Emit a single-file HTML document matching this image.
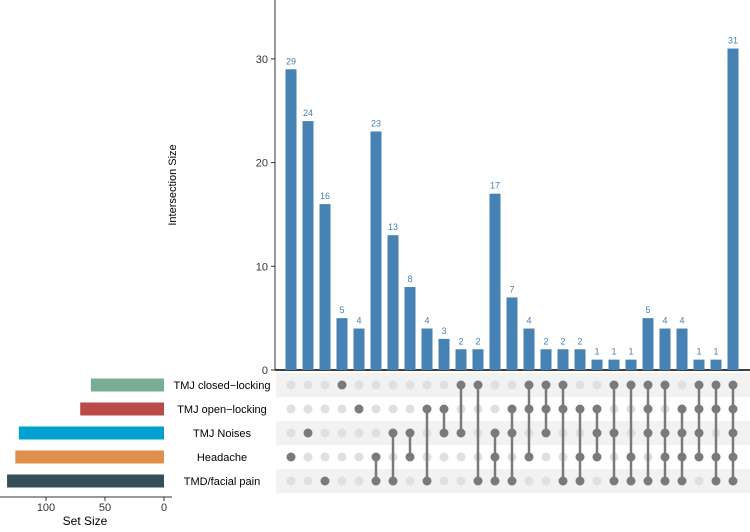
<!DOCTYPE html>
<html><head><meta charset="utf-8"><style>
body{margin:0;background:#fff;font-family:"Liberation Sans",sans-serif;}
svg text{font-family:"Liberation Sans",sans-serif;}
</style></head><body>
<svg id="c" width="750" height="527" xmlns="http://www.w3.org/2000/svg"></svg>
<script>
const setNames=["TMJ closed\u2212locking","TMJ open\u2212locking","TMJ Noises","Headache","TMD/facial pain"];
const setSizes=[62,71,123,126,133];
const setColors=["#7aae93","#b94a48","#00a0d0","#e0904a","#364e57"];
const counts=[29,24,16,5,4,23,13,8,4,3,2,2,17,7,4,2,2,2,1,1,1,5,4,4,1,1,31];
const members=[[3],[2],[4],[0],[1],[3,4],[2,4],[2,3],[1,4],[1,2],[0,2],[0,4],[2,3,4],[1,2,4],[0,1,3],[0,1,2],[0,1,4],[1,3,4],[1,2,3],[0,2,4],[0,3,4],[0,1,2,4],[0,2,3,4],[1,2,3,4],[0,1,2,3],[0,1,3,4],[0,1,2,3,4]];
const yTicks=[0,10,20,30];
const sTicks=[0,50,100];
const NS="http://www.w3.org/2000/svg";
const svg=document.getElementById('c');
function el(t,a,p){const e=document.createElementNS(NS,t);for(const k in a)e.setAttribute(k,a[k]);(p||svg).appendChild(e);return e;}
const y=v=>370-v*10.37;
const cx=i=>291+17*i;
const ry=r=>385+24*r;
const sx=v=>164-v*1.18;
for(let r=0;r<5;r+=2){const s=el('rect',{x:276,y:ry(r)-12,width:474,height:24,fill:'#f2f2f2'});

}
const ax=el('line',{x1:275,y1:0,x2:275,y2:370,stroke:'#333','stroke-width':1});


const bx=el('line',{x1:275,y1:370,x2:750,y2:370,stroke:'#000','stroke-width':1.5});


yTicks.forEach(v=>{
 el('line',{x1:271,y1:y(v),x2:275,y2:y(v),stroke:'#333'});
 const t=el('text',{x:268,y:y(v)+4,'text-anchor':'end','font-size':11,fill:'#333'});t.textContent=v;
 
 
});
const yl=el('text',{transform:'translate(176,185) rotate(-90)','text-anchor':'middle','font-size':11,fill:'#000'});yl.textContent='Intersection Size';


counts.forEach((c,i)=>{
 const b=el('rect',{x:cx(i)-5.5,y:y(c),width:11,height:370-y(c),fill:'#4682b4'});
 
 
 const t=el('text',{x:cx(i),y:y(c)-5,'text-anchor':'middle','font-size':9,fill:'#4682b4'});t.textContent=c;
 
 
});
members.forEach((m,i)=>{
 for(let r=0;r<5;r++){if(m.indexOf(r)<0){const d=el('circle',{cx:cx(i),cy:ry(r),r:4.5,fill:'#e0e0e0'});
 
 }}
 const mn=Math.min(...m),mx=Math.max(...m);
 if(mx>mn){const l=el('line',{x1:cx(i),y1:ry(mn),x2:cx(i),y2:ry(mx),stroke:'#7a7a7a','stroke-width':2.5});
 
 }
 m.forEach(r=>{const d=el('circle',{cx:cx(i),cy:ry(r),r:4.5,fill:'#7a7a7a'});
 
 });
});
setSizes.forEach((s,r)=>{
 const b=el('rect',{x:sx(s),y:ry(r)-6.5,width:164-sx(s),height:13,fill:setColors[r]});
 
 
 const t=el('text',{x:222,y:ry(r)+4,'text-anchor':'middle','font-size':11,fill:'#000'});t.textContent=setNames[r];
 
 
});
const sa=el('line',{x1:0,y1:497,x2:172,y2:497,stroke:'#333'});


sTicks.forEach(v=>{
 el('line',{x1:sx(v),y1:497,x2:sx(v),y2:501,stroke:'#333'});
 const t=el('text',{x:sx(v),y:511,'text-anchor':'middle','font-size':11,fill:'#333'});t.textContent=v;
 
 
});
const st=el('text',{x:85,y:525,'text-anchor':'middle','font-size':12,fill:'#000'});st.textContent='Set Size';


</script>
</body></html>
